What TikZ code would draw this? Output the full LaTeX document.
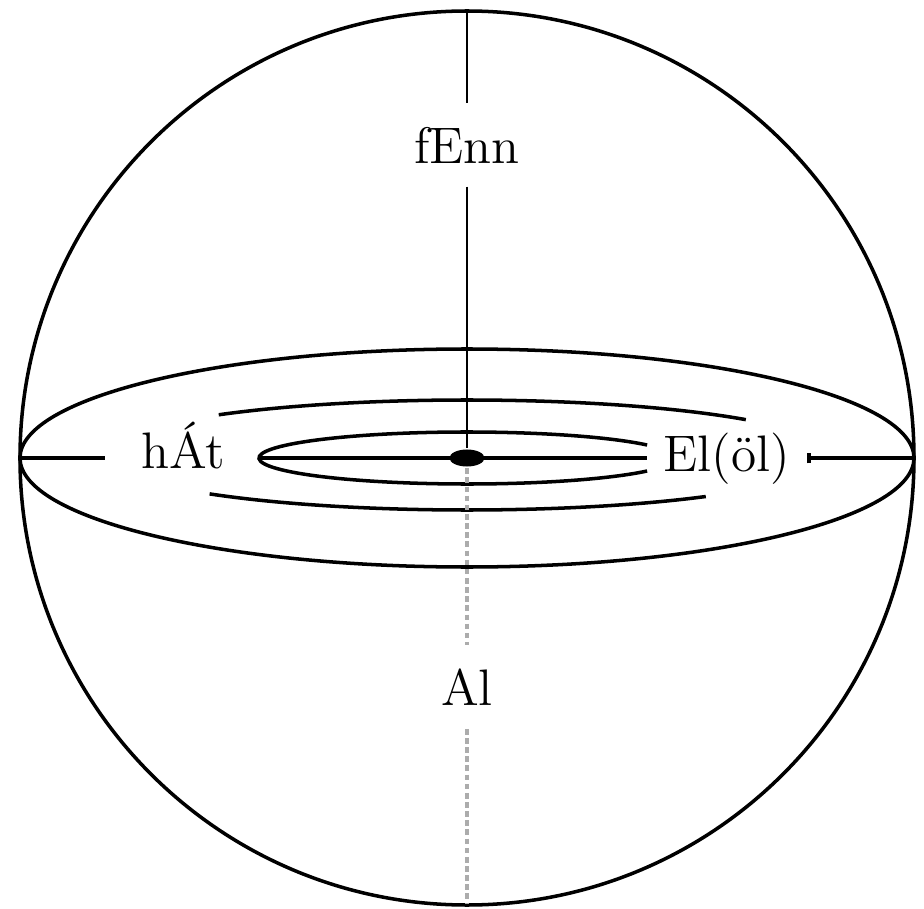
\documentclass[tikz,border=0pt]{standalone}
\usepackage{tikz}
\usetikzlibrary{arrows.meta,shapes.geometric,positioning}

\begin{document}
\begin{tikzpicture}[
    x=0.01cm, y=0.01cm,
    line width=1pt,
    word/.style={font=\fontsize{14.6}{17}\selectfont, inner xsep=0pt, inner ysep=6.2pt},
    hidden/.style={gray!65, line width=0.9pt, dash pattern=on 1.6pt off 1pt}
]
  \useasboundingbox (-467,-451) rectangle (457,458);

  % points
  \coordinate (C) at (0,0);
  \coordinate (N) at (0,447);
  \coordinate (S) at (0,-446);
  \coordinate (W) at (-447,0);
  \coordinate (E) at (447,0);
  \coordinate (wend) at (-362,0);
  \coordinate (eend) at (340,0);
  \coordinate (tip) at (-208,0);
  \coordinate (mid) at (180,0);

  % sphere
  \draw (C) circle [radius=447];
  \draw (C) ellipse [x radius=447, y radius=109];

  % nodes
  \node[word] (fenn) at (0,313) {fEnn};
  \node[word] (al) at (0,-229) {Al};
  \node[word, anchor=base] (hat) at (-284,-10) {hÁt};
  \node[word, anchor=base] (el) at (260,-14) {El(öl)};
  \node[fill, ellipse, minimum width=0.35cm, minimum height=0.17cm, inner sep=0pt] (dot) at (C) {};

  % spiral
  \draw ([shift={(40:364 and 55)}]0,3) arc [start angle=40, end angle=133, x radius=364, y radius=55];
  \draw ([shift={(225:364 and 55)}]0,3) arc [start angle=225, end angle=311, x radius=364, y radius=55];
  \draw ([shift={(30:208 and 26)}]C) arc [start angle=30, end angle=330, x radius=208, y radius=26];
  \draw (tip) -- (mid);

  % axes
  \draw[line width=0.8pt] (N) -- (fenn);
  \draw[line width=0.8pt] (fenn) -- (dot);
  \draw[hidden] (dot) -- (al);
  \draw[hidden] (al) -- (S);
  \draw (W) -- (wend);
  \draw[{Bar[width=3pt]}-] (eend) -- (E);
\end{tikzpicture}
\end{document}
